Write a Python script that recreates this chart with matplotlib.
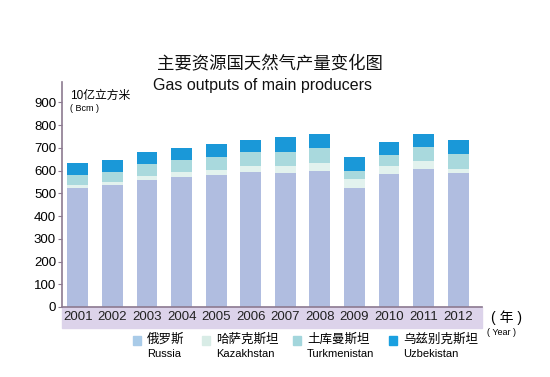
import matplotlib
matplotlib.use("Agg")
import matplotlib.pyplot as plt
from matplotlib.patches import Rectangle
import numpy as np

plt.rcParams['font.family'] = ['Liberation Sans', 'Noto Sans CJK SC', 'DejaVu Sans']

years = ['2001', '2002', '2003', '2004', '2005', '2006',
         '2007', '2008', '2009', '2010', '2011', '2012']
russia = [523, 538, 558, 570, 580, 593, 590, 599, 523, 586, 605, 590]
kazakhstan = [12, 11, 19, 22, 22, 28, 30, 34, 38, 35, 38, 18]
turkmenistan = [47, 46, 54, 54, 57, 59, 63, 66, 37, 46, 60, 66]
uzbekistan = [52, 53, 49, 54, 56, 55, 63, 63, 61, 60, 59, 59]

names_cn = ['俄罗斯', '哈萨克斯坦', '土库曼斯坦', '乌兹别克斯坦']
names_en = ['Russia', 'Kazakhstan', 'Turkmenistan', 'Uzbekistan']
colors = ['#b0bde0', '#e2f2ee', '#a9d9dd', '#1a98d8']
legend_colors = ['#a9cbe8', '#d8ece6', '#a3d6dc', '#1aa0e0']

fig = plt.figure(figsize=(5.5, 3.77), dpi=100)
ax = fig.add_axes([0.112, 0.1857, 0.765, 0.597])

x = np.arange(len(years))
bottom = np.zeros(len(years))
for vals, c in zip([russia, kazakhstan, turkmenistan, uzbekistan], colors):
    ax.bar(x, vals, 0.6, bottom=bottom, color=c, linewidth=0)
    bottom += np.array(vals)

ax.set_xlim(-0.47, 11.7)
ax.set_ylim(0, 990)
ax.set_yticks(range(0, 901, 100))
ax.tick_params(axis='y', labelsize=9.5, length=3, color='#8c7a90', pad=1)
ax.set_xticks([])
for s in ['top', 'right']:
    ax.spines[s].set_visible(False)
ax.spines['left'].set_color('#8c7a90')
ax.spines['bottom'].set_color('#8c7a90')
ax.spines['left'].set_linewidth(1.2)
ax.spines['bottom'].set_linewidth(1.2)

# band with year labels under axis
ax.add_patch(Rectangle((0, -0.093), 1, 0.093, transform=ax.transAxes,
                       color='#dcd3ea', clip_on=False, zorder=0))
for xi, y in zip(x, years):
    ax.text(xi, -0.046, y, transform=ax.get_xaxis_transform(),
            ha='center', va='center', fontsize=9.5, color='#222222')

fig.text(0.893, 0.158, '( 年 )', fontsize=10, va='center', ha='left')
fig.text(0.885, 0.117, '( Year )', fontsize=6.5, va='center', ha='left')

fig.text(0.49, 0.832, '主要资源国天然气产量变化图', fontsize=12.5,
         ha='center', va='center', color='#111111')
fig.text(0.478, 0.772, 'Gas outputs of main producers', fontsize=11.5,
         ha='center', va='center', color='#111111')
fig.text(0.128, 0.745, '10亿立方米', fontsize=8.5, ha='left', va='center')
fig.text(0.128, 0.713, '( Bcm )', fontsize=6.5, ha='left', va='center')

# legend
lx = [133, 202, 293, 389]
for px, cn, en, c in zip(lx, names_cn, names_en, legend_colors):
    fig.patches.append(Rectangle((px / 550, 1 - 345 / 377), 8 / 550, 9 / 377,
                                 transform=fig.transFigure, color=c))
    fig.text((px + 14) / 550, 1 - 340 / 377, cn, fontsize=9, va='center', ha='left')
    fig.text((px + 14) / 550, 1 - 354 / 377, en, fontsize=8, va='center', ha='left')

fig.savefig('out.png', dpi=100, facecolor='white')
